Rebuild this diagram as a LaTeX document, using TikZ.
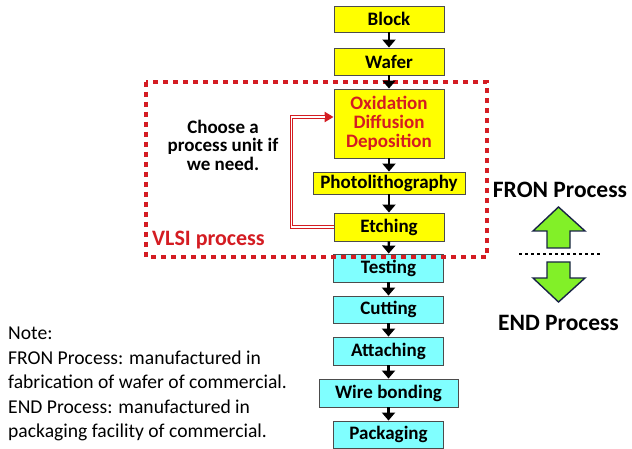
\documentclass[tikz,border=0pt]{standalone}
\usepackage{fontspec}
\setmainfont{Carlito}
\usetikzlibrary{arrows.meta,calc}
\definecolor{vred}{RGB}{212,28,34}
\definecolor{agreen}{RGB}{130,240,40}
\definecolor{anavy}{RGB}{25,35,70}
\definecolor{byellow}{RGB}{255,255,0}
\definecolor{bcyan}{RGB}{128,255,255}
\begin{document}
\begin{tikzpicture}[x=1pt,y=-1pt,
  box/.style={draw=black!70,line width=0.9pt,minimum width=110pt,inner sep=0pt,
    font=\fontsize{19}{19}\selectfont\bfseries},
  yb/.style={box,fill=byellow},
  cb/.style={box,fill=bcyan},
  flow/.style={line width=2.4pt,-{Triangle[width=13pt,length=8pt]}},
  garrow/.style={draw=anavy,fill=agreen,line width=1.4pt,line join=miter},
  bigtxt/.style={inner sep=0pt,font=\fontsize{23.5}{25}\selectfont\bfseries},
]
\useasboundingbox (0,0) rectangle (632,449);
% boxes
\node[yb,minimum height=26pt] (block) at (389,19) {Block};
\node[yb,minimum height=27pt] (wafer) at (389,61.5) {Wafer};
\node[yb,minimum height=69pt,text=vred,align=center] (oxi) at (389,123.5) {Oxidation\\Diffusion\\Deposition};
\node[yb,minimum height=22pt,minimum width=152pt] (photo) at (389,183) {Photolithography};
\node[yb,minimum height=28pt] (etch) at (389,227) {Etching};
\node[cb,minimum height=28pt] (test) at (388.5,268) {Testing};
\node[cb,minimum height=27pt] (cut) at (388.5,309.5) {Cutting};
\node[cb,minimum height=28pt] (attach) at (388.5,351) {Attaching};
\node[cb,minimum height=28pt,minimum width=139pt] (wire) at (388.5,393) {Wire bonding};
\node[cb,minimum height=27pt] (pack) at (388.5,434.5) {Packaging};
% VLSI dashed frame
\draw[vred,line width=4pt,dash pattern=on 5pt off 5pt] (146,82) rectangle (487,257);
% flow arrows
\draw[flow] (block) -- (wafer);
\draw[flow] (wafer) -- (oxi);
\draw[flow] (oxi) -- (photo);
\draw[flow] (photo) -- (etch);
\draw[flow] (etch) -- (test);
\draw[flow] (test) -- (cut);
\draw[flow] (cut) -- (attach);
\draw[flow] (attach) -- (wire);
\draw[flow] (wire) -- (pack);
% feedback arrow (double red line)
\coordinate (fbtarget) at ([yshift=6.5pt]oxi.west);
\draw[vred,line width=3.2pt,line join=miter,-{Triangle[width=10pt,length=9pt]}]
  (etch.west) -- ++(-42,0) |- (fbtarget);
\draw[white,line width=1.2pt,line join=miter,shorten >=9pt]
  (etch.west) -- ++(-42,0) |- (fbtarget);
% texts
\node[inner sep=0pt,align=center,font=\fontsize{19}{18.5}\selectfont\bfseries] (choose) at (223,145) {Choose a\\process unit if\\we need.};
\node[inner sep=0pt,anchor=west,text=vred,font=\fontsize{22}{22}\selectfont\bfseries] (vlsi) at (152,240) {VLSI process};
\node[bigtxt] (fron) at (560,190) {FRON Process};
\node[bigtxt] (endp) at (558.5,323) {END Process};
% green arrows
\draw[garrow] (547,248) -- (570,248) -- (570,231) -- (585,231) -- (558.5,207) -- (533,231) -- (547,231) -- cycle;
\draw[garrow] (547,262) -- (570,262) -- (570,278) -- (585,278) -- (558.5,302) -- (533,278) -- (547,278) -- cycle;
\draw[line width=2pt,dash pattern=on 3pt off 3pt] (519,254) -- (602,254);
% note
\node[inner sep=0pt,anchor=west,align=left,font=\fontsize{19.6}{24.4}\selectfont] (note) at (8,384)
  {Note:\\FRON Process: manufactured in\\fabrication of wafer of commercial.\\END Process: manufactured in\\packaging facility of commercial.};
\end{tikzpicture}
\end{document}
